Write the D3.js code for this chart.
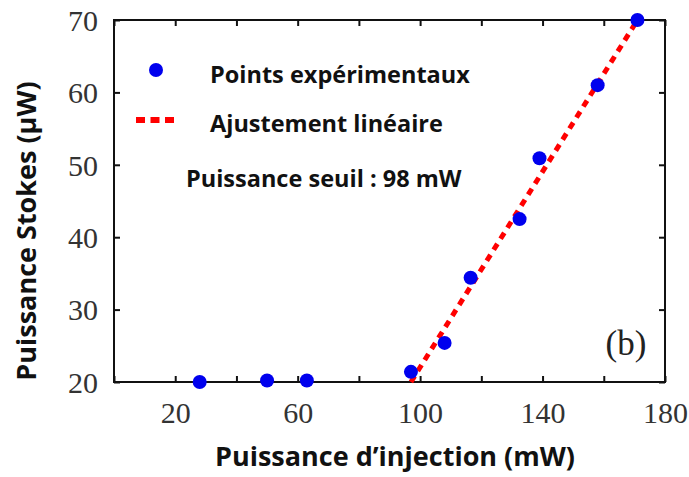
<!DOCTYPE html>
<html><head><meta charset="utf-8">
<script src="https://cdn.jsdelivr.net/npm/d3@7"></script>
<style>body{margin:0;background:#fff}</style>
</head><body>
<svg id="c" width="689" height="477"></svg>
<script>
const injection = [28, 50, 63, 97, 108, 116.5, 132.5, 139, 158, 171];
const stokes = [20, 20.2, 20.2, 21.4, 25.4, 34.4, 42.5, 50.9, 61, 70];
const fitX = [97, 171];
const fitY = [20, 70];
const xTicks = [0, 20, 40, 60, 80, 100, 120, 140, 160, 180];
const xLabels = [20, 60, 100, 140, 180];
const yTicks = [20, 30, 40, 50, 60, 70];

const svg = d3.select("#c");
const x = d3.scaleLinear().domain([0, 180]).range([114, 665]);
const y = d3.scaleLinear().domain([20, 70]).range([382, 20]);
const serif = "'Liberation Serif', 'DejaVu Serif', serif";
const sans = "'Open Sans', 'Noto Sans', sans-serif";

// frame
svg.append("rect").attr("x", 114).attr("y", 20).attr("width", 551).attr("height", 362)
  .attr("fill", "none").attr("stroke", "#111").attr("stroke-width", 2);

const xb = svg.append("g").attr("transform", "translate(0,382)")
  .call(d3.axisBottom(x).tickValues(xTicks).tickSizeInner(-6).tickSizeOuter(0)
    .tickFormat(d => xLabels.includes(d) ? d : ""));
const xt = svg.append("g").attr("transform", "translate(0,20)")
  .call(d3.axisTop(x).tickValues(xTicks).tickSizeInner(-6).tickSizeOuter(0).tickFormat(""));
const yl = svg.append("g").attr("transform", "translate(114,0)")
  .call(d3.axisLeft(y).tickValues(yTicks).tickSizeInner(-6).tickSizeOuter(0));
const yr = svg.append("g").attr("transform", "translate(665,0)")
  .call(d3.axisRight(y).tickValues(yTicks).tickSizeInner(-6).tickSizeOuter(0).tickFormat(""));
[xb, xt, yl, yr].forEach(g => {
  g.select(".domain").remove();
  g.selectAll("line").attr("stroke", "#111").attr("stroke-width", 2);
  g.selectAll("text").attr("font-family", serif).attr("font-size", 30).attr("fill", "#333");
});
xb.selectAll("text").attr("y", 18).attr("dy", "0.78em");
yl.selectAll("text").attr("x", -16).attr("dy", "0.34em");

// fit line
svg.append("line")
  .attr("x1", x(fitX[0])).attr("y1", y(fitY[0]))
  .attr("x2", x(fitX[1])).attr("y2", y(fitY[1]))
  .attr("stroke", "#f00").attr("stroke-width", 5).attr("stroke-dasharray", "7,6");

// points
svg.selectAll("circle.pt").data(injection).enter().append("circle").attr("class", "pt")
  .attr("cx", d => x(d)).attr("cy", (d, i) => y(stokes[i])).attr("r", 7).attr("fill", "#0000ee");

// legend
svg.append("circle").attr("cx", 156).attr("cy", 70).attr("r", 7).attr("fill", "#0000ee");
svg.append("line").attr("x1", 136).attr("x2", 174).attr("y1", 120).attr("y2", 120)
  .attr("stroke", "#f00").attr("stroke-width", 6).attr("stroke-dasharray", "9,5.5");
const leg = [["Points expérimentaux", 210, 83], ["Ajustement linéaire", 210, 132], ["Puissance seuil : 98 mW", 186, 187]];
leg.forEach(l => svg.append("text").attr("x", l[1]).attr("y", l[2]).text(l[0])
  .attr("font-family", sans).attr("font-weight", "bold").attr("font-size", 23.5).attr("fill", "#111"));

svg.append("text").attr("x", 626).attr("y", 355).attr("text-anchor", "middle").text("(b)")
  .attr("font-family", serif).attr("font-size", 35).attr("fill", "#222");

// axis titles
svg.append("text").attr("x", 395).attr("y", 466).attr("text-anchor", "middle")
  .text("Puissance d’injection (mW)")
  .attr("font-family", sans).attr("font-weight", "bold").attr("font-size", 27).attr("fill", "#111");
svg.append("text").attr("transform", "translate(36,231) rotate(-90)").attr("text-anchor", "middle")
  .text("Puissance Stokes (µW)")
  .attr("font-family", sans).attr("font-weight", "bold").attr("font-size", 27).attr("fill", "#111");
</script>
</body></html>
